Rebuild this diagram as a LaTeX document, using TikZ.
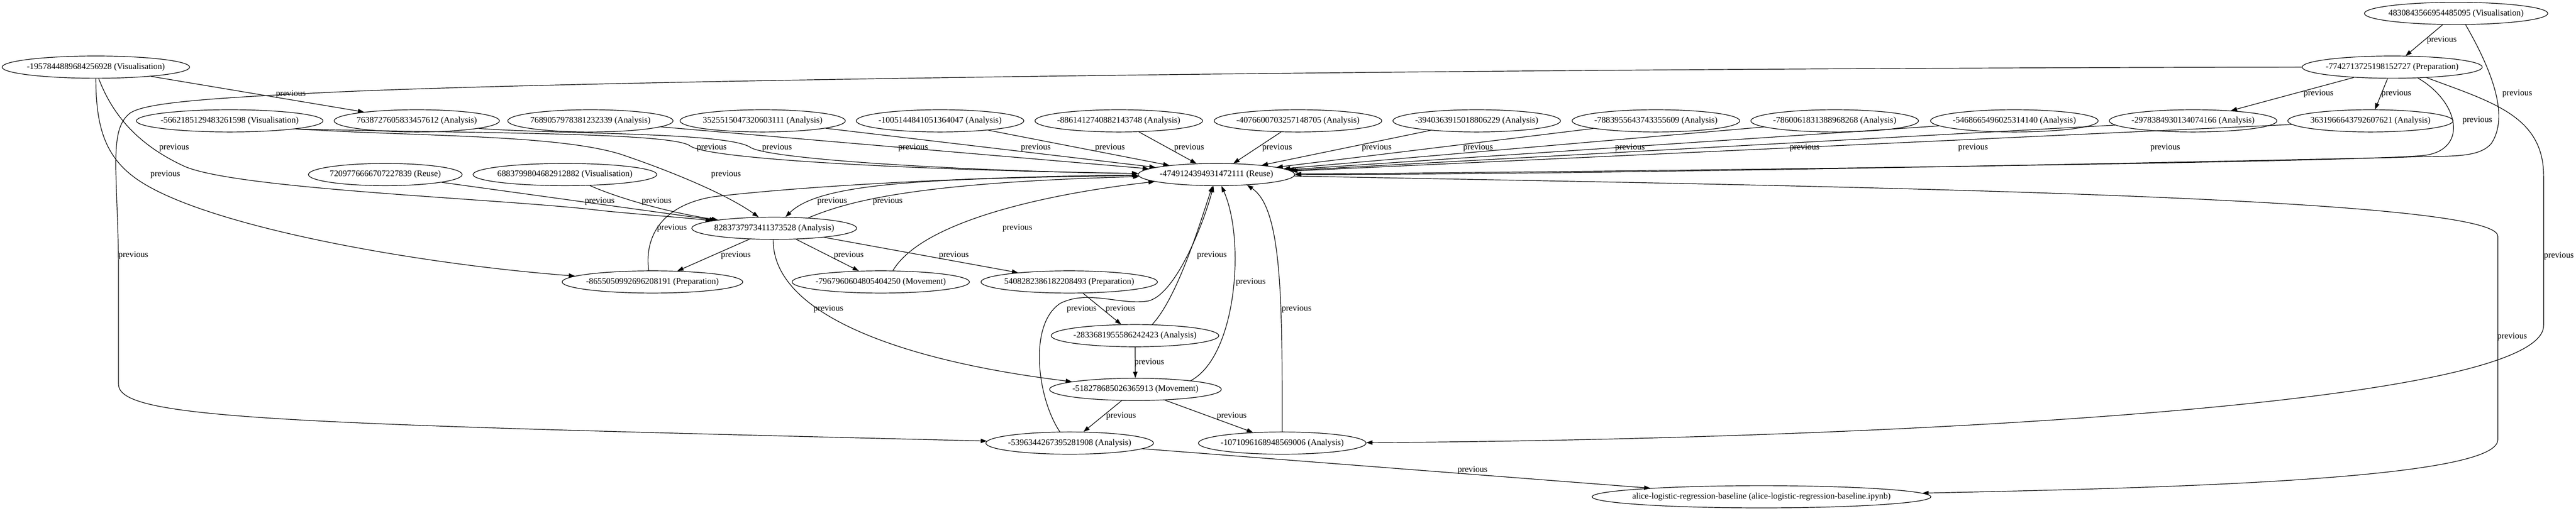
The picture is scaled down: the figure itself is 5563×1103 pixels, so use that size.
\documentclass[tikz,border=0pt]{standalone}
\usepackage{fontspec}
\setmainfont{Liberation Serif}
\usetikzlibrary{shapes.geometric,arrows.meta}
\newcommand\nt[1]{\makebox[0pt]{#1}}
\begin{document}
\begin{tikzpicture}[x=0.75pt,y=-0.75pt,
  nd/.style={ellipse, draw, line width=1pt, minimum height=36pt, inner sep=0pt, font=\fontsize{14}{16}\selectfont},
  ed/.style={draw, line width=1pt, -{Triangle[length=10pt,width=7pt]}},
  lb/.style={inner sep=0pt, font=\fontsize{14}{16}\selectfont}]
\fill[white] (0,0) rectangle (5563,1103);
\useasboundingbox (0,0) rectangle (5563,1103);
% nodes
\node[nd,minimum width=303.75pt] (A) at (207,145) {\nt{-1957844889684256928 (Visualisation)}};
\node[nd,minimum width=297pt] (n4830) at (5304,29) {\nt{4830843566954485095 (Visualisation)}};
\node[nd,minimum width=291.75pt] (n7742) at (5166,145) {\nt{-7742713725198152727 (Preparation)}};
\node[nd,minimum width=302.25pt] (n5662) at (496,261) {\nt{-5662185129483261598 (Visualisation)}};
\node[nd,minimum width=267.75pt] (n7638) at (900,261) {\nt{7638727605833457612 (Analysis)}};
\node[nd,minimum width=267.75pt] (n7689) at (1275,261) {\nt{7689057978381232339 (Analysis)}};
\node[nd,minimum width=267.75pt] (n3525) at (1647,261) {\nt{3525515047320603111 (Analysis)}};
\node[nd,minimum width=271.5pt] (n1005) at (2030,261) {\nt{-1005144841051364047 (Analysis)}};
\node[nd,minimum width=271.5pt] (n8861) at (2416,261) {\nt{-8861412740882143748 (Analysis)}};
\node[nd,minimum width=271.5pt] (n4076) at (2803,261) {\nt{-4076600703257148705 (Analysis)}};
\node[nd,minimum width=271.5pt] (n3940) at (3189,261) {\nt{-3940363915018806229 (Analysis)}};
\node[nd,minimum width=271.5pt] (n7883) at (3576,261) {\nt{-7883955643743355609 (Analysis)}};
\node[nd,minimum width=271.5pt] (n7860) at (3962,261) {\nt{-7860061831388968268 (Analysis)}};
\node[nd,minimum width=271.5pt] (n5468) at (4350,261) {\nt{-5468665496025314140 (Analysis)}};
\node[nd,minimum width=271.5pt] (n2978) at (4736,261) {\nt{-2978384930134074166 (Analysis)}};
\node[nd,minimum width=267.75pt] (n3631) at (5119,261) {\nt{3631966643792607621 (Analysis)}};
\node[nd,minimum width=249pt] (n7209) at (832,377) {\nt{7209776666707227839 (Reuse)}};
\node[nd,minimum width=297.75pt] (n6883) at (1220,377) {\nt{6883799804682912882 (Visualisation)}};
\node[nd,minimum width=253.5pt] (Reuse) at (2627,377) {\nt{-4749124394931472111 (Reuse)}};
\node[nd,minimum width=267pt] (n8283) at (1672,493) {\nt{8283737973411373528 (Analysis)}};
\node[nd,minimum width=292.5pt] (n8655) at (1409,609) {\nt{-8655050992696208191 (Preparation)}};
\node[nd,minimum width=287.25pt] (n7967) at (1902,609) {\nt{-7967960604805404250 (Movement)}};
\node[nd,minimum width=285.75pt] (n5408) at (2309,609) {\nt{5408282386182208493 (Preparation)}};
\node[nd,minimum width=271.5pt] (n2833) at (2451,725) {\nt{-2833681955586242423 (Analysis)}};
\node[nd,minimum width=278.25pt] (n5182) at (2452,841) {\nt{-518278685026365913 (Movement)}};
\node[nd,minimum width=271.5pt] (n5396) at (2310,957) {\nt{-5396344267395281908 (Analysis)}};
\node[nd,minimum width=271.5pt] (n1071) at (2769,957) {\nt{-1071096168948569006 (Analysis)}};
\node[nd,minimum width=549pt] (alice) at (3804,1073) {\nt{alice-logistic-regression-baseline (alice-logistic-regression-baseline.ipynb)}};
% edges
\draw[ed] (A) -- (n7638);
\draw[ed] (A.-90) .. controls (207,280) and (230,343) .. (300,390) .. controls (450,490) and (900,570) .. (n8655);
\draw[ed] (A.-76) .. controls (240,240) and (290,310) .. (400,360) .. controls (520,410) and (1100,430) .. (1300,455) .. controls (1400,465) and (1480,470) .. (n8283);
\draw[ed] (n7742.west) .. controls (3000,148) and (1200,175) .. (700,200) .. controls (450,212) and (310,222) .. (280,245) .. controls (255,265) and (250,300) .. (250,360) .. controls (252,450) and (256,500) .. (256,600) -- (256,830) .. controls (256,905) and (600,915) .. (n5396);
\draw[ed] (n5662.-7) .. controls (900,295) and (1200,290) .. (1340,333) .. controls (1450,370) and (1570,420) .. (n8283);
\draw[ed] (n5662.-7) .. controls (1000,288) and (1450,285) .. (1490,315) .. controls (1530,345) and (2000,368) .. (Reuse);
\draw[ed] (n7638.-7) .. controls (1200,290) and (1570,285) .. (1620,318) .. controls (1660,345) and (2100,370) .. (Reuse);
\foreach \s in {n7689,n3525,n1005,n8861,n4076,n3940,n7883,n7860,n5468,n2978,n3631} \draw[ed] (\s) -- (Reuse);
\draw[ed] (n4830) -- (n7742);
\draw[ed] (n7742) -- (n2978);
\draw[ed] (n7742) -- (n3631);
\draw[ed] (n7742.-23) .. controls (5310,220) and (5330,320) .. (5240,335) .. controls (5150,350) and (3400,372) .. (Reuse);
\draw[ed] (n4830.-50) .. controls (5380,150) and (5420,250) .. (5380,310) .. controls (5350,345) and (5280,335) .. (5180,340) .. controls (4500,355) and (3400,377) .. (Reuse);
\draw[ed] (n7742.-17) .. controls (5380,220) and (5493,250) .. (5493,380) -- (5493,703) .. controls (5493,880) and (4000,950) .. (n1071);
\draw[ed] (Reuse) .. controls (3800,400) and (5394,420) .. (5394,510) -- (5394,950) .. controls (5394,1040) and (4600,1055) .. (alice);
\draw[ed] (n5396) -- (alice);
\draw[ed] (n7209) -- (n8283);
\draw[ed] (n6883) .. controls (1340,430) and (1450,460) .. (n8283);
\draw[ed] (n8655.108) .. controls (1392,520) and (1420,445) .. (1540,425) .. controls (1800,395) and (2200,380) .. (Reuse);
\draw[ed] (Reuse) .. controls (2000,385) and (1770,395) .. (n8283);
\draw[ed] (n8283.17) .. controls (1820,440) and (1950,395) .. (Reuse);
\draw[ed] (n8283) -- (n8655);
\draw[ed] (n8283) -- (n7967);
\draw[ed] (n8283) -- (n5408);
\draw[ed] (n8283.-95) .. controls (1668,680) and (1950,780) .. (n5182);
\draw[ed] (n7967.43) .. controls (1990,480) and (2250,420) .. (Reuse);
\draw[ed] (n5408) -- (n2833);
\draw[ed] (n2833.33) .. controls (2545,640) and (2595,470) .. (Reuse);
\draw[ed] (n2833) -- (n5182);
\draw[ed] (n5182.9) .. controls (2670,770) and (2690,520) .. (Reuse);
\draw[ed] (n5396.131) .. controls (2240,860) and (2220,700) .. (2290,655) .. controls (2350,625) and (2420,660) .. (2480,650) .. controls (2540,635) and (2600,480) .. (Reuse);
\draw[ed] (n1071.north) .. controls (2769,650) and (2769,450) .. (Reuse.-19);
\draw[ed] (n5182) -- (n5396);
\draw[ed] (n5182) -- (n1071);
% labels
\node[lb] (l1) at (628,203) {previous};
\node[lb] (l2) at (376,319) {previous};
\node[lb] (l3) at (357,377) {previous};
\node[lb] (l4) at (288,551) {previous};
\node[lb] (l5) at (1537,319) {previous};
\node[lb] (l6) at (1678,319) {previous};
\node[lb] (l7) at (1568,377) {previous};
\node[lb] (l8) at (1972,319) {previous};
\node[lb] (l9) at (2237,319) {previous};
\node[lb] (l10) at (2397,319) {previous};
\node[lb] (l11) at (2568,319) {previous};
\node[lb] (l12) at (2758,319) {previous};
\node[lb] (l13) at (2973,319) {previous};
\node[lb] (l14) at (3192,319) {previous};
\node[lb] (l15) at (3520,319) {previous};
\node[lb] (l16) at (3897,319) {previous};
\node[lb] (l17) at (4261,319) {previous};
\node[lb] (l18) at (4676,319) {previous};
\node[lb] (l19) at (5273,87) {previous};
\node[lb] (l20) at (5007,202) {previous};
\node[lb] (l21) at (5175,202) {previous};
\node[lb] (l22) at (5436,202) {previous};
\node[lb] (l23) at (5350,260) {previous};
\node[lb] (l24) at (5526,553) {previous};
\node[lb] (l25) at (5425,727) {previous};
\node[lb] (l26) at (3180,1015) {previous};
\node[lb] (l27) at (1295,435) {previous};
\node[lb] (l28) at (1418,435) {previous};
\node[lb] (l29) at (1451,493) {previous};
\node[lb] (l30) at (1589,551) {previous};
\node[lb] (l31) at (1797,435) {previous};
\node[lb] (l32) at (1917,435) {previous};
\node[lb] (l33) at (1833,551) {previous};
\node[lb] (l34) at (2060,551) {previous};
\node[lb] (l35) at (1789,667) {previous};
\node[lb] (l36) at (2197,493) {previous};
\node[lb] (l37) at (2420,667) {previous};
\node[lb] (l38) at (2617,551) {previous};
\node[lb] (l39) at (2482,783) {previous};
\node[lb] (l40) at (2701,609) {previous};
\node[lb] (l41) at (2336,667) {previous};
\node[lb] (l42) at (2800,667) {previous};
\node[lb] (l43) at (2421,899) {previous};
\node[lb] (l44) at (2660,899) {previous};
\end{tikzpicture}
\end{document}
